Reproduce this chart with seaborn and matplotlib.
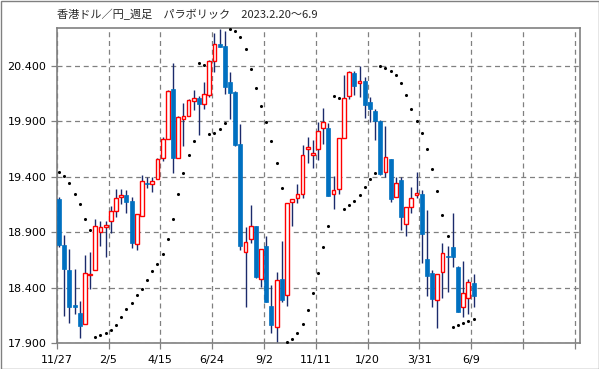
import numpy as np
import pandas as pd
import seaborn as sns
import matplotlib
matplotlib.use("Agg")
import matplotlib.pyplot as plt
from matplotlib.patches import Rectangle

sns.set_style("white")
plt.rcParams['font.family'] = ['DejaVu Sans']

# weekly HKD/JPY candles (open, high, low, close)
opens = [19.197, 18.784, 18.559, 18.240, 18.168, 18.074, 18.512, 18.556, 18.905, 18.950,
         18.998, 19.091, 19.215, 19.233, 19.179, 18.790, 19.046, 19.340, 19.335, 19.377,
         19.567, 19.738, 20.192, 19.567, 19.925, 19.952, 20.087, 20.111, 20.060, 20.141,
         20.448, 20.599, 20.581, 20.256, 20.165, 19.696, 18.718, 18.836, 18.956, 18.474,
         18.778, 18.234, 18.041, 18.475, 18.330, 19.176, 19.206, 19.242, 19.655, 19.594,
         19.648, 19.837, 19.837, 19.242, 19.287, 19.747, 20.126, 20.334, 20.244, 20.262,
         20.075, 19.994, 19.907, 19.443, 19.558, 19.221, 19.371, 18.974, 19.130, 19.233,
         19.245, 18.655, 18.529, 18.285, 18.538, 18.685, 18.763, 18.586, 18.228, 18.303,
         18.439]
highs = [19.215, 18.875, 18.745, 18.565, 18.282, 18.691, 18.721, 19.016, 19.001, 19.001,
         19.136, 19.287, 19.287, 19.281, 19.221, 19.061, 19.416, 19.395, 19.401, 19.573,
         19.756, 20.180, 20.430, 19.952, 20.066, 20.100, 20.183, 20.129, 20.256, 20.457,
         20.695, 20.731, 20.716, 20.349, 20.177, 19.877, 18.944, 19.145, 18.960, 18.745,
         18.866, 18.423, 18.541, 18.821, 19.161, 19.197, 19.335, 19.690, 19.762, 19.732,
         19.898, 20.018, 19.883, 19.410, 19.753, 20.319, 20.358, 20.358, 20.400, 20.304,
         20.123, 20.015, 19.910, 19.861, 19.560, 19.401, 19.401, 19.124, 19.311, 19.440,
         19.281, 19.100, 18.556, 18.520, 18.800, 18.778, 19.070, 18.595, 18.643, 18.475,
         18.520]
lows = [18.769, 18.147, 18.084, 18.162, 17.948, 18.070, 18.384, 18.556, 18.775, 18.679,
        18.890, 19.040, 19.151, 19.070, 18.760, 18.736, 19.046, 19.296, 19.266, 19.377,
        19.546, 19.738, 19.437, 19.567, 19.678, 19.945, 20.003, 19.778, 20.015, 20.123,
        20.349, 20.570, 20.146, 19.922, 19.680, 18.739, 18.222, 18.806, 18.490, 18.408,
        18.270, 17.993, 17.897, 18.273, 18.237, 18.959, 19.167, 19.212, 19.522, 19.476,
        19.552, 19.696, 19.230, 19.112, 19.242, 19.747, 20.102, 20.138, 20.123, 19.929,
        19.898, 19.732, 19.420, 19.401, 19.176, 19.220, 18.920, 18.869, 19.070, 19.206,
        18.625, 18.327, 18.228, 18.038, 18.303, 18.363, 18.583, 18.180, 18.138, 18.162,
        18.228]
closes = [18.784, 18.565, 18.228, 18.228, 18.056, 18.529, 18.522, 18.956, 18.944, 18.962,
          19.091, 19.206, 19.233, 19.176, 18.806, 19.061, 19.365, 19.333, 19.365, 19.558,
          19.738, 20.174, 19.567, 19.937, 19.946, 20.093, 20.111, 20.060, 20.145, 20.442,
          20.596, 20.574, 20.213, 20.159, 19.690, 18.778, 18.809, 18.956, 18.499, 18.745,
          18.273, 18.065, 18.469, 18.291, 19.161, 19.197, 19.245, 19.594, 19.665, 19.612,
          19.810, 19.898, 19.230, 19.278, 19.753, 20.108, 20.343, 20.222, 20.262, 20.052,
          20.015, 19.901, 19.425, 19.576, 19.197, 19.347, 19.040, 19.124, 19.206, 19.254,
          18.887, 18.508, 18.300, 18.520, 18.709, 18.673, 18.679, 18.183, 18.348, 18.448,
          18.327]
# parabolic SAR
sar = [19.440, 19.410, 19.341, 19.241, 19.151, 19.020, 18.917,
       17.951, 17.969, 17.990, 18.014, 18.059, 18.132, 18.204, 18.264, 18.330, 18.384,
       18.466, 18.547, 18.610, 18.706, 18.836, 19.016, 19.241, 19.431, 19.594,
       19.720, 20.424, 20.406, 19.783, 19.798, 19.828, 19.883,
       20.731, 20.719, 20.665, 20.550, 20.370, 20.198, 20.039, 19.892, 19.720, 19.522, 19.296,
       17.906, 17.933, 17.987, 18.071, 18.195, 18.354, 18.535, 18.763, 18.953,
       20.126, 20.108,
       19.112, 19.142, 19.185, 19.233, 19.305, 19.377, 19.431,
       20.400, 20.379, 20.358, 20.316, 20.244, 20.135, 20.009, 19.901, 19.792, 19.654,
       19.467, 19.269, 19.052, 18.863,
       18.041, 18.059, 18.077, 18.096, 18.120]
tick_labels = ['11/27', '2/5', '4/15', '6/24', '9/2', '11/11', '1/20', '3/31', '6/9', '', '']

df = pd.DataFrame({'open': opens, 'high': highs, 'low': lows, 'close': closes, 'sar': sar})
df['x'] = np.arange(len(df)) + 0.45
up = df['close'] >= df['open']

fig = plt.figure(figsize=(5.99, 3.69), dpi=100)
ax = fig.add_axes([56.7 / 599, 26 / 369, (580 - 56.7) / 599, (343 - 27.7) / 369])

ax.vlines(df['x'], df['low'], df['high'], color='#1b2a6b', linewidth=1.0, zorder=2)
body_lo = np.minimum(df['open'], df['close'])
body_h = np.maximum((df['close'] - df['open']).abs(), 0.012)
ax.bar(df['x'][up], body_h[up], bottom=body_lo[up], width=0.72,
       facecolor='white', edgecolor='#ff0000', linewidth=1.0, zorder=3)
ax.bar(df['x'][~up], body_h[~up], bottom=body_lo[~up], width=0.78,
       facecolor='#0070c0', edgecolor='#0070c0', linewidth=0.5, zorder=3)

sns.scatterplot(data=df, x='x', y='sar', color='black', s=5, linewidth=0,
                ax=ax, zorder=4, legend=False)

ax.set_xlim(0, 101)
ax.set_ylim(17.9, 20.746)
ax.set_xticks(np.arange(0, 101, 10))
ax.set_xticklabels(tick_labels)
ax.set_yticks(np.arange(17.9, 20.41, 0.5))
ax.set_yticklabels([f'{v:.3f}' for v in np.arange(17.9, 20.41, 0.5)])
ax.set_xlabel('')
ax.set_ylabel('')
ax.grid(True, color='#808080', linestyle=(0, (4, 3)), linewidth=0.9)
for s in ax.spines.values():
    s.set_color('#808080')
    s.set_linewidth(1.2)
ax.tick_params(axis='both', colors='#808080', labelcolor='black', labelsize=8,
               length=4, width=0.9, direction='out', bottom=True, left=True)
ax.tick_params(axis='x', pad=4.5)

fig.text(57 / 599, 1 - 14 / 369, '香港ドル／円_週足　パラボリック　2023.2.20～6.9',
         family=['Noto Sans CJK JP', 'DejaVu Sans'], fontsize=8, va='center', ha='left')
fig.patches.append(Rectangle((0.5 / 599, 0.5 / 369), 598 / 599, 368 / 369,
                             transform=fig.transFigure, fill=False,
                             edgecolor='#808080', linewidth=1.0))

fig.savefig('out.png', dpi=100)
